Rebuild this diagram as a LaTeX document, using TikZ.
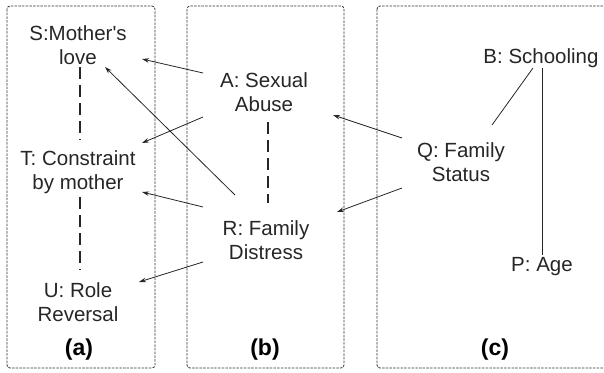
\documentclass[tikz,border=0pt]{standalone}
\usepackage{fontspec}
\setmainfont{Liberation Sans}
\usetikzlibrary{arrows.meta}
\begin{document}
\begin{tikzpicture}[x=1pt,y=-1pt,
  lbl/.style={inner sep=0pt,align=center,font=\fontsize{20.5}{24.5}\selectfont,text=black!85},
  panel/.style={draw=black!80,line width=0.8pt,dash pattern=on 2.5pt off 1.2pt,rounded corners=3pt},
  plab/.style={inner sep=0pt,font=\fontsize{23}{26}\selectfont\bfseries},
  arr/.style={draw=black!85,line width=0.8pt,-{Stealth[length=7pt,width=4.5pt]}},
  lnk/.style={draw=black!85,line width=0.8pt},
  dsh/.style={draw=black!85,line width=1.4pt,dash pattern=on 12pt off 6pt}]
\useasboundingbox (0,0) rectangle (604,372);
\begin{scope}
\clip (0,0) rectangle (604,372);
\draw[panel] (7,6) rectangle (155,368);
\draw[panel] (187,6) rectangle (344,368);
\draw[panel] (377,6) rectangle (620,368);
\end{scope}
\node[lbl] (S) at (78,45) {S:Mother\textquotesingle s\\love};
\node[lbl] (T) at (78,172) {T: Constraint\\by mother};
\node[lbl] (U) at (78,302) {U: Role\\Reversal};
\node[lbl] (A) at (264,92) {A: Sexual\\Abuse};
\node[lbl] (R) at (266,240) {R: Family\\Distress};
\node[lbl] (Q) at (461,162) {Q: Family\\Status};
\node[lbl] (B) at (541,58) {B: Schooling};
\node[lbl] (P) at (542,267) {P: Age};
\node[plab] (la) at (79,350) {(a)};
\node[plab] (lb) at (265,350) {(b)};
\node[plab] (lc) at (495,350) {(c)};
% arrows
\draw[arr] ([shift={(-61,-19)}]A.center) -- ([shift={(64,14)}]S.center);
\draw[arr] ([shift={(-61,25)}]A.center) -- ([shift={(64,-29)}]T.center);
\draw[arr] ([shift={(-31,-45)}]R.center) -- ([shift={(27,22)}]S.center);
\draw[arr] ([shift={(-63,-33)}]R.center) -- ([shift={(64,20)}]T.center);
\draw[arr] ([shift={(-63,22)}]R.center) -- ([shift={(61,-20)}]U.center);
\draw[arr] ([shift={(-59,-24)}]Q.center) -- ([shift={(69,23)}]A.center);
\draw[arr] ([shift={(-59,26)}]Q.center) -- ([shift={(71,-28)}]R.center);
% links
\draw[lnk] ([shift={(-8,10)}]B.center) -- ([shift={(31,-37)}]Q.center);
\draw[lnk] ([shift={(1,10)}]B.center) -- ([shift={(0,-12)}]P.center);
% dashed
\draw[dsh] ([shift={(2,22)}]S.center) -- ([shift={(2,-32)}]T.center);
\draw[dsh] ([shift={(2,25)}]T.center) -- ([shift={(2,-32)}]U.center);
\draw[dsh] ([shift={(4,30)}]A.center) -- ([shift={(2,-37)}]R.center);
\end{tikzpicture}
\end{document}
